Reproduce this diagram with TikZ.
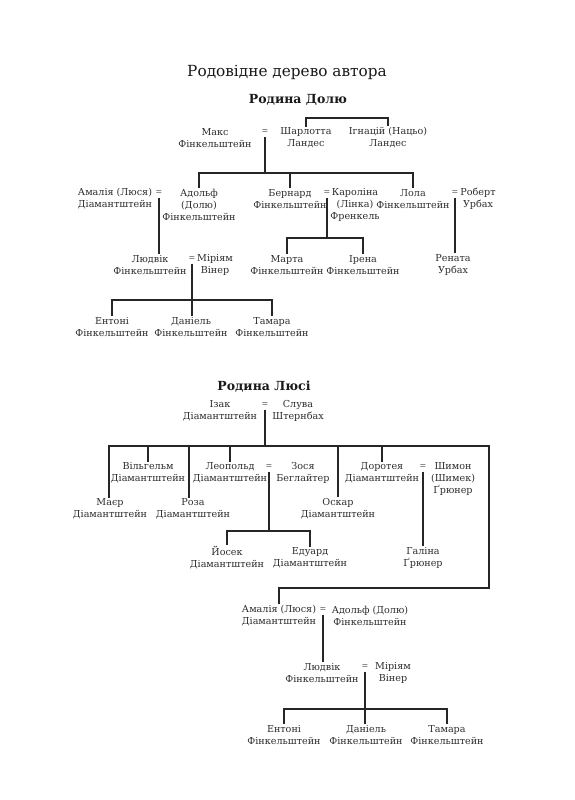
\documentclass[tikz,border=0pt]{standalone}
\usepackage{fontspec}
\setmainfont{DejaVu Serif}
\definecolor{txt}{HTML}{2E2E2E}
\definecolor{eqc}{HTML}{4A4A4A}
\definecolor{lnc}{HTML}{262626}
\begin{document}
\begin{tikzpicture}[x=1pt,y=1pt,
  person/.style={align=center, inner sep=1pt, text=txt, font=\fontsize{9.6}{12}\selectfont},
  eqsign/.style={inner sep=2.5pt, text=eqc, font=\fontsize{8}{8}\selectfont},
  link/.style={draw=lnc, line width=1.4pt},
  maintitle/.style={text=black!90, font=\fontsize{15.3}{18}\selectfont},
  subtitle/.style={text=black!90, font=\fontsize{12.5}{15}\selectfont\bfseries}]
\useasboundingbox[fill=white] (0,0) rectangle (575,-800);

% ---------- titles
\node[maintitle] (title) at (287,-72) {Родовідне дерево автора};
\node[subtitle] (sub1) at (298,-100) {Родина Долю};

% ---------- Родина Долю
\node[person] (maks) at (215,-138) {Макс\\Фінкельштейн};
\node[eqsign] (eqA) at (265,-132) {=};
\node[person] (sharl) at (306,-138) {Шарлотта\\Ландес};
\node[person] (ignac) at (388,-138) {Ігнацій (Нацьо)\\Ландес};

\node[person] (amal) at (115,-199) {Амалія (Люся)\\Діамантштейн};
\node[eqsign] (eqB) at (159,-193) {=};
\node[person] (adolf) at (199,-205) {Адольф\\(Долю)\\Фінкельштейн};
\node[person] (bern) at (290,-199) {Бернард\\Фінкельштейн};
\node[eqsign] (eqC) at (327,-193) {=};
\node[person] (karol) at (355,-205) {Кароліна\\(Лінка)\\Френкель};
\node[person] (lola) at (413,-199) {Лола\\Фінкельштейн};
\node[eqsign] (eqD) at (455,-193) {=};
\node[person] (robert) at (478,-199) {Роберт\\Урбах};

\node[person] (ludvik) at (150,-265) {Людвік\\Фінкельштейн};
\node[eqsign] (eqE) at (192,-259) {=};
\node[person] (miriam) at (215,-265) {Міріям\\Вінер};
\node[person] (marta) at (287,-265) {Марта\\Фінкельштейн};
\node[person] (irena) at (363,-265) {Ірена\\Фінкельштейн};
\node[person] (renata) at (453,-265) {Рената\\Урбах};

\node[person] (ent1) at (112,-327) {Ентоні\\Фінкельштейн};
\node[person] (dan1) at (191,-327) {Даніель\\Фінкельштейн};
\node[person] (tam1) at (272,-327) {Тамара\\Фінкельштейн};

\coordinate (yA) at (0,-118);
\coordinate (yB) at (0,-173);
\coordinate (yC) at (0,-238);
\coordinate (yD) at (0,-300);

\draw[link] (sharl.north) -- (sharl.north |- yA) -| (ignac.north);
\draw[link] (eqA.south) -- (eqA.south |- yB);
\draw[link] (adolf.north) -- (adolf.north |- yB) -| (lola.north);
\draw[link] (bern.north) -- (bern.north |- yB);
\draw[link] (eqB.south) -- (eqB.south |- ludvik.north);
\draw[link] (eqC.south) -- (eqC.south |- yC);
\draw[link] (marta.north) -- (marta.north |- yC) -| (irena.north);
\draw[link] (eqD.south) -- (eqD.south |- renata.north);
\draw[link] (eqE.south) -- (eqE.south |- dan1.north);
\draw[link] (ent1.north) -- (ent1.north |- yD) -| (tam1.north);

% ---------- Родина Люсі
\node[subtitle] (sub2) at (264,-387) {Родина Люсі};
\node[person] (izak) at (220,-411) {Ізак\\Діамантштейн};
\node[eqsign] (eqF) at (265,-405) {=};
\node[person] (sluva) at (298,-411) {Слува\\Штернбах};

\node[person] (vilg) at (148,-473) {Вільгельм\\Діамантштейн};
\node[person] (leop) at (230,-473) {Леопольд\\Діамантштейн};
\node[eqsign] (eqG) at (269,-467) {=};
\node[person] (zosia) at (303,-473) {Зося\\Беглайтер};
\node[person] (dorot) at (382,-473) {Доротея\\Діамантштейн};
\node[eqsign] (eqH) at (423,-467) {=};
\node[person] (shimon) at (453,-479) {Шимон\\(Шимек)\\Ґрюнер};

\node[person] (maer) at (110,-509) {Маєр\\Діамантштейн};
\node[person] (roza) at (193,-509) {Роза\\Діамантштейн};
\node[person] (oskar) at (338,-509) {Оскар\\Діамантштейн};

\node[person] (yosek) at (227,-558) {Йосек\\Діамантштейн};
\node[person] (eduard) at (310,-558) {Едуард\\Діамантштейн};
\node[person] (galina) at (423,-558) {Галіна\\Ґрюнер};

% ---------- united
\node[person] (amal2) at (279,-616) {Амалія (Люся)\\Діамантштейн};
\node[eqsign] (eqI) at (323,-610) {=};
\node[person] (adolf2) at (370,-616) {Адольф (Долю)\\Фінкельштейн};
\node[person] (ludvik2) at (322,-673) {Людвік\\Фінкельштейн};
\node[eqsign] (eqJ) at (365,-667) {=};
\node[person] (miriam2) at (393,-673) {Міріям\\Вінер};
\node[person] (ent2) at (284,-735) {Ентоні\\Фінкельштейн};
\node[person] (dan2) at (366,-735) {Даніель\\Фінкельштейн};
\node[person] (tam2) at (447,-735) {Тамара\\Фінкельштейн};

\coordinate (yE) at (0,-446);
\coordinate (yF) at (0,-531);
\coordinate (xL) at (109,0);
\coordinate (xR) at (489,0);
\coordinate (xRoza) at (189,0);
\coordinate (yG) at (0,-588);

\draw[link] (eqF.south) -- (eqF.south |- yE);
\draw[link] (xL |- maer.north) -- (xL |- yE) -- (xR |- yE) -- (xR |- yG) -| (amal2.north);
\draw[link] (vilg.north) -- (vilg.north |- yE);
\draw[link] (xRoza |- roza.north) -- (xRoza |- yE);
\draw[link] (leop.north) -- (leop.north |- yE);
\draw[link] (oskar.north) -- (oskar.north |- yE);
\draw[link] (dorot.north) -- (dorot.north |- yE);
\draw[link] (eqG.south) -- (eqG.south |- yF);
\draw[link] (yosek.north) -- (yosek.north |- yF) -| (eduard.north);
\draw[link] (eqH.south) -- (eqH.south |- galina.north);

\coordinate (yH) at (0,-709);
\draw[link] (eqI.south) -- (eqI.south |- ludvik2.north);
\draw[link] (eqJ.south) -- (eqJ.south |- dan2.north);
\draw[link] (ent2.north) -- (ent2.north |- yH) -| (tam2.north);
\end{tikzpicture}
\end{document}
